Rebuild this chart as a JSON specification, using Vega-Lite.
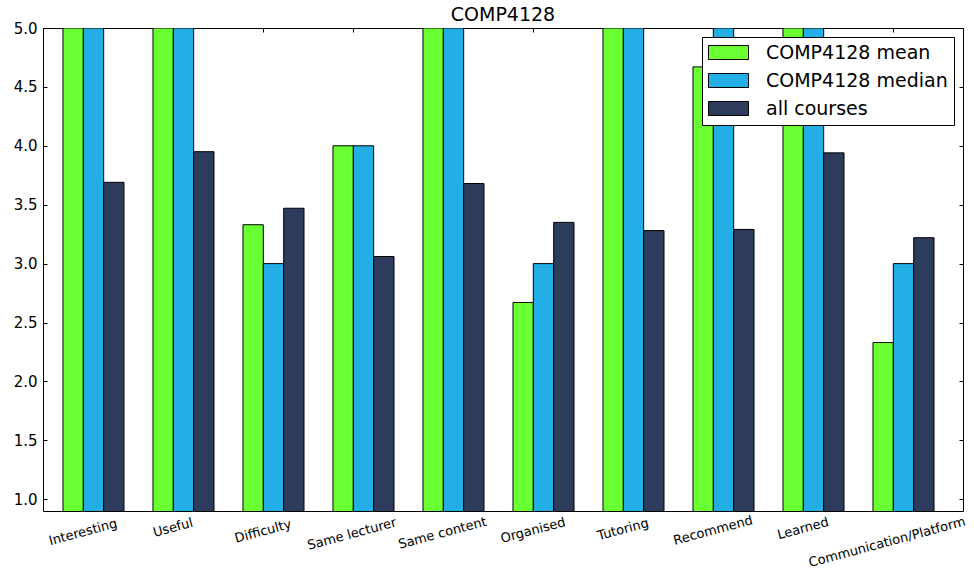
{
  "$schema": "https://vega.github.io/schema/vega-lite/v6.json",
  "autosize": {"type": "none"},
  "padding": {"left": 43, "top": 28, "right": 11, "bottom": 62},
  "width": 920,
  "height": 483,
  "title": {"text": "COMP4128", "fontSize": 19, "fontWeight": "normal", "color": "black", "offset": -4, "anchor": "middle"},
  "config": {
    "font": "DejaVu Sans",
    "view": {"stroke": "black", "strokeWidth": 1},
    "axis": {"grid": false, "domain": false, "tickColor": "black", "labelColor": "black", "tickSize": -4}
  },
  "data": {
    "values": [
      {"category": "Interesting", "series": "COMP4128 mean", "value": 5},
      {"category": "Interesting", "series": "COMP4128 median", "value": 5},
      {"category": "Interesting", "series": "all courses", "value": 3.69},
      {"category": "Useful", "series": "COMP4128 mean", "value": 5},
      {"category": "Useful", "series": "COMP4128 median", "value": 5},
      {"category": "Useful", "series": "all courses", "value": 3.95},
      {"category": "Difficulty", "series": "COMP4128 mean", "value": 3.33},
      {"category": "Difficulty", "series": "COMP4128 median", "value": 3},
      {"category": "Difficulty", "series": "all courses", "value": 3.47},
      {"category": "Same lecturer", "series": "COMP4128 mean", "value": 4},
      {"category": "Same lecturer", "series": "COMP4128 median", "value": 4},
      {"category": "Same lecturer", "series": "all courses", "value": 3.06},
      {"category": "Same content", "series": "COMP4128 mean", "value": 5},
      {"category": "Same content", "series": "COMP4128 median", "value": 5},
      {"category": "Same content", "series": "all courses", "value": 3.68},
      {"category": "Organised", "series": "COMP4128 mean", "value": 2.67},
      {"category": "Organised", "series": "COMP4128 median", "value": 3},
      {"category": "Organised", "series": "all courses", "value": 3.35},
      {"category": "Tutoring", "series": "COMP4128 mean", "value": 5},
      {"category": "Tutoring", "series": "COMP4128 median", "value": 5},
      {"category": "Tutoring", "series": "all courses", "value": 3.28},
      {"category": "Recommend", "series": "COMP4128 mean", "value": 4.67},
      {"category": "Recommend", "series": "COMP4128 median", "value": 5},
      {"category": "Recommend", "series": "all courses", "value": 3.29},
      {"category": "Learned", "series": "COMP4128 mean", "value": 5},
      {"category": "Learned", "series": "COMP4128 median", "value": 5},
      {"category": "Learned", "series": "all courses", "value": 3.94},
      {"category": "Communication/Platform", "series": "COMP4128 mean", "value": 2.33},
      {"category": "Communication/Platform", "series": "COMP4128 median", "value": 3},
      {"category": "Communication/Platform", "series": "all courses", "value": 3.22}
    ]
  },
  "layer": [
    {
      "mark": {"type": "bar", "clip": true, "stroke": "black", "strokeWidth": 1},
      "encoding": {
        "x": {
          "field": "category", "type": "nominal", "sort": null, "title": null,
          "scale": {"paddingInner": 0.322, "paddingOuter": 0.272, "align": 0.408},
          "axis": {
            "orient": "bottom", "labelAngle": -15, "labelAlign": "center", "labelBaseline": "top",
            "labelFontSize": 13, "bandPosition": 0.33,
            "labelPadding": {"expr": "9 + length(datum.label)*0.91"},
            "labelOffset": {"expr": "-12 - max(0, length(datum.label)-11)*0.55"}
          }
        },
        "xOffset": {"field": "series", "type": "nominal", "sort": null,
          "scale": {"domain": ["COMP4128 mean", "COMP4128 median", "all courses"], "paddingInner": 0, "paddingOuter": 0}},
        "y": {
          "field": "value", "type": "quantitative", "title": null,
          "scale": {"domain": [0.9, 5.0], "nice": false, "zero": false},
          "axis": {"orient": "left", "values": [1.0, 1.5, 2.0, 2.5, 3.0, 3.5, 4.0, 4.5, 5.0], "format": ".1f", "labelFontSize": 15, "labelPadding": 10}
        },
        "color": {
          "field": "series", "type": "nominal",
          "scale": {"domain": ["COMP4128 mean", "COMP4128 median", "all courses"], "range": ["#6aff33", "#23aee6", "#2d3c5c"]},
          "legend": {
            "title": null, "orient": "none", "legendX": 659, "legendY": 9,
            "symbolType": "M-2.86,-1H2.86V1H-2.86Z", "symbolSize": 196,
            "symbolStrokeColor": "black", "symbolStrokeWidth": 1, "symbolOpacity": 1,
            "symbolOffset": 11, "labelOffset": 28, "labelLimit": 400,
            "labelFontSize": 19, "labelColor": "black", "rowPadding": 8,
            "padding": 6, "strokeColor": "black", "fillColor": "white", "cornerRadius": 0
          }
        }
      }
    },
    {
      "mark": {"type": "bar", "clip": true, "opacity": 0},
      "encoding": {
        "x": {
          "field": "category", "type": "nominal", "sort": null, "title": null,
          "scale": {"paddingInner": 0.322, "paddingOuter": 0.272, "align": 0.408},
          "axis": {"orient": "top", "labels": false, "bandPosition": 0.33}
        },
        "y": {
          "field": "value", "type": "quantitative", "title": null,
          "scale": {"domain": [0.9, 5.0], "nice": false, "zero": false},
          "axis": {"orient": "right", "labels": false, "values": [1.0, 1.5, 2.0, 2.5, 3.0, 3.5, 4.0, 4.5, 5.0]}
        }
      }
    }
  ],
  "resolve": {"axis": {"x": "independent", "y": "independent"}}
}
